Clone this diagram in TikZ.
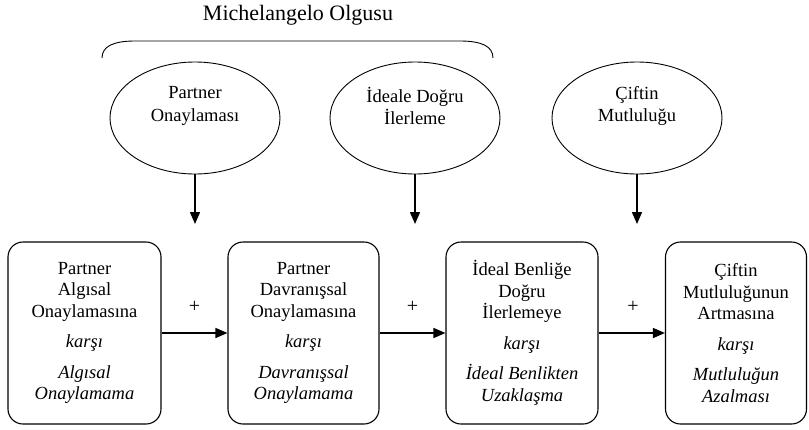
\documentclass[tikz,border=0pt]{standalone}
\usepackage{fontspec}
\setmainfont{Liberation Serif}
\usetikzlibrary{arrows.meta,positioning,shapes.geometric}

\begin{document}
\begin{tikzpicture}[
    x=1pt, y=-1pt,
    oval/.style={draw, ellipse, minimum width=170pt, minimum height=112pt, line width=0.9pt},
    ovaltext/.style={align=center, font=\fontsize{18.5}{22.5}\selectfont},
    box/.style={draw, rectangle, rounded corners=15pt, minimum height=182pt, align=center, line width=1.1pt, font=\fontsize{18.5}{21.5}\selectfont},
    arrow/.style={-{Triangle[length=12pt,width=10pt]}, line width=1.5pt},
    plus/.style={font=\fontsize{20}{24}\selectfont}
]
    \useasboundingbox (0,0) rectangle (809,429);

    % Baslik ve parantez
    \node[font=\fontsize{22}{26}\selectfont] (baslik) at (298,15) {Michelangelo Olgusu};
    \draw[line width=0.9pt] (102,58) .. controls (102,46) and (114,41) .. (135,41) -- (460,41) .. controls (481,41) and (493,46) .. (493,58);

    % Elipsler
    \node[oval] (onay) at (195,118) {};
    \node[ovaltext] (onaytxt) at (195,106) {Partner\\Onaylaması};
    \node[oval] (ideal) at (415,118) {};
    \node[ovaltext] (idealtxt) at (415,106) {İdeale Doğru\\İlerleme};
    \node[oval] (mutlu) at (637,118) {};
    \node[ovaltext] (mutlutxt) at (637,106) {Çiftin\\Mutluluğu};

    % Kutular
    \node[box, minimum width=153pt] (algisal) at (84.5,333) {Partner\\Algısal\\Onaylamasına\\[9pt]\textit{karşı}\\[9pt]\textit{Algısal}\\\textit{Onaylamama}};
    \node[box, minimum width=151pt] (davranis) at (303.5,333) {Partner\\Davranışsal\\Onaylamasına\\[9pt]\textit{karşı}\\[9pt]\textit{Davranışsal}\\\textit{Onaylamama}};
    \node[box, minimum width=152pt] (benlik) at (522,333) {İdeal Benliğe\\Doğru\\İlerlemeye\\[9pt]\textit{karşı}\\[9pt]\textit{İdeal Benlikten}\\\textit{Uzaklaşma}};
    \node[box, minimum width=141pt] (artma) at (736,333) {Çiftin\\Mutluluğunun\\Artmasına\\[9pt]\textit{karşı}\\[9pt]\textit{Mutluluğun}\\\textit{Azalması}};

    % Yatay oklar
    \draw[arrow] (algisal) -- (davranis);
    \draw[arrow] (davranis) -- (benlik);
    \draw[arrow] (benlik) -- (artma);

    % Arti isaretleri
    \node[plus] (arti1) at (194.5,307) {+};
    \node[plus] (arti2) at (412.5,307) {+};
    \node[plus] (arti3) at (633,307) {+};

    % Dikey oklar
    \coordinate (uc1) at (195,224);
    \coordinate (uc2) at (415,224);
    \coordinate (uc3) at (637,224);
    \draw[arrow] (onay) -- (uc1);
    \draw[arrow] (ideal) -- (uc2);
    \draw[arrow] (mutlu) -- (uc3);

\end{tikzpicture}
\end{document}
